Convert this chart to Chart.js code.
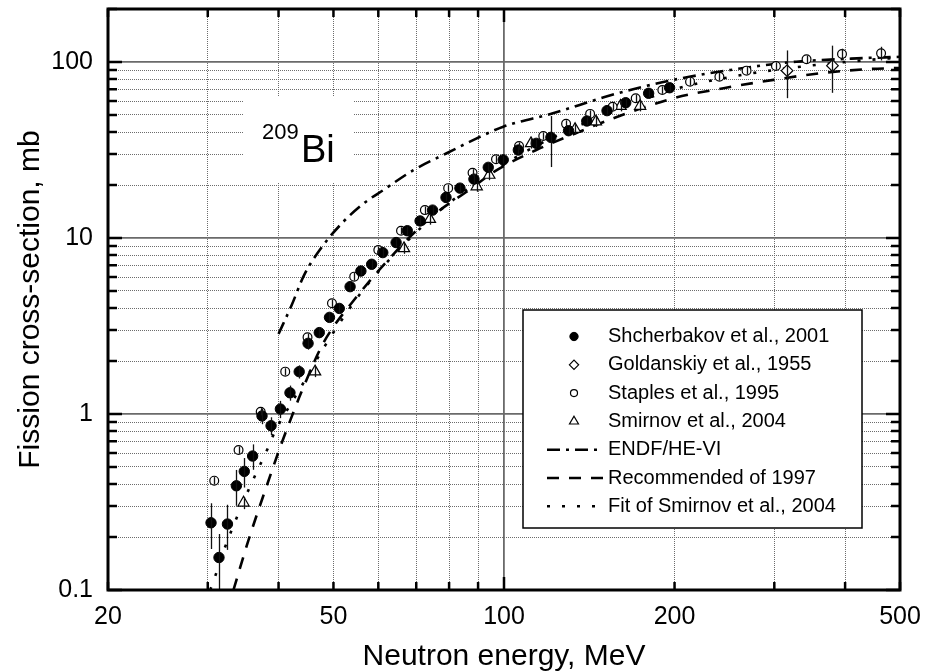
<!DOCTYPE html>
<html>
<head>
<meta charset="utf-8">
<title>209Bi fission cross-section</title>
<script src="https://cdn.jsdelivr.net/npm/chart.js@4.4.1/dist/chart.umd.min.js"></script>
<style>
    html, body { margin: 0; padding: 0; background: #fff; }
    #chart { display: block; }
</style>
</head>
<body>
<canvas id="chart" width="930" height="672"></canvas>
<script>
// =========================================================
// DATA
// =========================================================

    // --- Axes --- //

    const xTickValues = [20, 30, 40, 50, 60, 70, 80, 90, 100, 200, 300, 400, 500];
    const xTickLabels = ["20", "", "", "50", "", "", "", "", "100", "200", "", "", "500"];
    const xMajorTicks = [100];

    const yTickValues = [0.1, 0.2, 0.3, 0.4, 0.5, 0.6, 0.7, 0.8, 0.9,
                         1, 2, 3, 4, 5, 6, 7, 8, 9,
                         10, 20, 30, 40, 50, 60, 70, 80, 90,
                         100, 200];
    const yTickLabels = ["0.1", "", "", "", "", "", "", "", "",
                         "1", "", "", "", "", "", "", "", "",
                         "10", "", "", "", "", "", "", "", "",
                         "100", ""];
    const yMajorTicks = [0.1, 1, 10, 100];

    // --- Shcherbakov et al., 2001 --- //

    const shcherbakovEnergy = [30.4, 31.4, 32.5, 33.7, 34.8, 36.0, 37.4, 38.8, 40.3, 41.9, 43.5, 45.1, 47.2,
                               49.2, 51.2, 53.5, 55.9, 58.4, 61.1, 64.5, 67.5, 71.1, 74.8, 79.0, 83.6, 88.5,
                               93.8, 99.7, 106, 114, 121, 130, 140, 152, 164, 180, 196];
    const shcherbakovSigma = [0.241, 0.153, 0.237, 0.391, 0.472, 0.577, 0.975, 0.858, 1.067, 1.32, 1.74, 2.52, 2.90,
                              3.54, 3.98, 5.29, 6.49, 7.09, 8.26, 9.42, 11.0, 12.5, 14.4, 17.0, 19.2, 21.6,
                              25.2, 27.8, 31.6, 34.5, 37.3, 40.7, 46.2, 52.9, 58.7, 66.4, 71.4];
    const shcherbakovError = [0.07, 0.055, 0.068, 0.09, 0.09, 0.095, 0.1, 0.1, 0.12, 0.13, 0.15, 0.2, 0.2,
                              0.2, 0.25, 0.3, 0.35, 0.4, 0.45, 0.5, 0.6, 0.7, 0.8, 0.9, 1.0, 1.2,
                              1.3, 1.4, 1.6, 1.8, 12, 2.0, 2.3, 2.6, 3.0, 3.3, 3.6];

    // --- Goldanskiy et al., 1955 --- //

    const goldanskiyEnergy = [316, 380];
    const goldanskiySigma = [89.3, 95.3];
    const goldanskiyError = [27, 28.5];

    // --- Staples et al., 1995 --- //

    const staplesEnergy = [30.8, 34.0, 37.2, 41.1, 45.0, 49.7, 54.4, 60.0, 65.8, 72.5, 79.7, 88.0, 96.8, 106.3,
                           117.3, 128.7, 141.9, 155.5, 170.8, 190.3, 213, 240, 268, 302, 342, 395, 463];
    const staplesSigma = [0.418, 0.624, 1.03, 1.74, 2.73, 4.26, 6.03, 8.55, 11.0, 14.4, 19.2, 23.5, 28.0, 33.3,
                          38.0, 44.5, 50.7, 55.7, 62.2, 69.3, 77.3, 82.5, 89.3, 94.9, 103.6, 111, 112];
    const staplesError = [0.02, 0.03, 0.05, 0.08, 0.13, 0.2, 0.3, 0.4, 0.5, 0.7, 0.9, 1.1, 1.3, 1.6,
                          1.8, 2.1, 2.4, 2.7, 3.0, 3.3, 3.7, 4.0, 4.3, 4.6, 5.0, 8.0, 10];

    // --- Smirnov et al., 2004 --- //

    const smirnovEnergy = [34.7, 46.4, 66.6, 74.0, 89.5, 94.2, 111.6, 133.5, 145.3, 160.6, 173.9];
    const smirnovSigma = [0.313, 1.74, 8.73, 12.8, 19.6, 22.8, 34.5, 41.5, 45.8, 56.2, 56.2];
    const smirnovError = [0.025, 0.12, 0.6, 0.9, 1.3, 1.5, 2.3, 2.8, 3.1, 3.8, 3.8];

    // --- Evaluations and fit --- //

    const endfEnergy = [40, 42.2, 44.4, 48, 52.1, 56.5, 61.2, 69.2, 79.2, 89.5, 99.7, 122, 150, 169, 199,
                        251, 328, 410, 500];
    const endfSigma = [2.85, 4.16, 6.17, 9.12, 12.4, 15.7, 18.7, 24.3, 30.3, 36.8, 42.9, 51.1, 63.0, 70.0, 79.1,
                       90.1, 100.4, 104.5, 107];

    const recommendedEnergy = [33.3, 35.4, 37.9, 40.5, 42.2, 43.8, 47.6, 50, 53.8, 58.8, 61.7, 68.3, 77.1, 85.9,
                               97.1, 114, 136, 156, 199, 244, 299, 361, 437, 500];
    const recommendedSigma = [0.1, 0.192, 0.37, 0.682, 0.966, 1.31, 2.41, 3.13, 4.26, 6.03, 7.18, 10.2, 14.4, 18.3,
                              24.3, 31.6, 40.2, 47.9, 62.2, 71.0, 79.1, 86.3, 91.0, 92.5];

    const fitEnergy = [30.3, 30.9, 32.2, 33.7, 35.4, 36.4, 38.4, 39.4, 41.9, 43.8, 48.0, 51.7, 56.1, 61.7, 69.2,
                       77.6, 97.7, 112, 139, 158, 200, 250, 300, 400, 500];
    const fitSigma = [0.1, 0.119, 0.176, 0.255, 0.37, 0.45, 0.652, 0.793, 1.12, 1.42, 2.36, 3.42, 4.95, 7.1, 10.4,
                      14.6, 24.9, 32.4, 45, 53, 70, 82, 90, 100, 106];

// =========================================================
// HELPERS
// =========================================================

    const FONT_FAMILY = "'Liberation Sans', Arial, Helvetica, sans-serif";

    function toPoints(energies, sigmas) {
        return energies.map((energy, index) => ({ x: energy, y: sigmas[index] }));
    }

    function isMajor(value, majorTicks) {
        return majorTicks.some(major => Math.abs(major - value) < major * 1e-6);
    }

    function gridColor(context, majorTicks) {
        if (!context.tick) return "#666";
        return isMajor(context.tick.value, majorTicks) ? "#6a6a6a" : "#6c6c6c";
    }

    function gridWidth(context, majorTicks) {
        if (!context.tick) return 1;
        return isMajor(context.tick.value, majorTicks) ? 1.8 : 1;
    }

    function gridDash(context, majorTicks) {
        if (!context.tick) return [];
        return isMajor(context.tick.value, majorTicks) ? [] : [1, 1];
    }

// =========================================================
// PLUGINS
// =========================================================

    // --- Isotope label (white box hides the grid behind it) --- //

    const isotopeLabelPlugin = {
        id: "isotopeLabel",
        beforeDatasetsDraw(chart) {
            const { ctx, chartArea } = chart;
            const left = chartArea.left + 136;
            const top = chartArea.top + 88;

            ctx.save();
            ctx.fillStyle = "#fff";
            ctx.fillRect(left, top, 109, 86);

            ctx.fillStyle = "#000";
            ctx.textBaseline = "alphabetic";
            ctx.textAlign = "left";
            ctx.font = "22px " + FONT_FAMILY;
            ctx.fillText("209", left + 18, top + 42);
            ctx.font = "38px " + FONT_FAMILY;
            ctx.fillText("Bi", left + 57, top + 65);
            ctx.restore();
        }
    };

    // --- Vertical error bars --- //

    const errorBarPlugin = {
        id: "errorBars",
        afterDatasetsDraw(chart) {
            const { ctx, chartArea, scales } = chart;

            ctx.save();
            ctx.beginPath();
            ctx.rect(chartArea.left, chartArea.top, chartArea.right - chartArea.left, chartArea.bottom - chartArea.top);
            ctx.clip();
            ctx.strokeStyle = "#111";
            ctx.lineWidth = 1.3;

            chart.data.datasets.forEach(dataset => {
                if (!dataset.errorBars) return;

                dataset.data.forEach((point, index) => {
                    const error = dataset.errorBars[index];
                    if (!error) return;

                    const x = Math.round(scales.x.getPixelForValue(point.x)) + 0.5;
                    const yLow = scales.y.getPixelForValue(Math.max(point.y - error, 0.001));
                    const yHigh = scales.y.getPixelForValue(point.y + error);

                    ctx.beginPath();
                    ctx.moveTo(x, yLow);
                    ctx.lineTo(x, yHigh);
                    ctx.stroke();
                });
            });

            ctx.restore();
        }
    };

    // --- Legend box inside the plot --- //

    const legendBoxPlugin = {
        id: "legendBox",
        afterDatasetsDraw(chart) {
            const { ctx, chartArea } = chart;
            const width = 339;
            const height = 218;
            const left = chartArea.right - 38 - width;
            const top = chartArea.bottom - 62 - height;

            ctx.save();
            ctx.fillStyle = "#fff";
            ctx.fillRect(left, top, width, height);
            ctx.strokeStyle = "#000";
            ctx.lineWidth = 1.5;
            ctx.strokeRect(left, top, width, height);

            ctx.font = "20px " + FONT_FAMILY;
            ctx.textBaseline = "middle";
            ctx.textAlign = "left";

            chart.data.datasets.forEach((dataset, index) => {
                const y = top + 26.5 + index * 28.3;

                if (dataset.showLine) {
                    ctx.strokeStyle = dataset.borderColor;
                    ctx.lineWidth = dataset.borderWidth;
                    ctx.setLineDash(dataset.borderDash || []);
                    ctx.beginPath();
                    ctx.moveTo(left + 24, y);
                    ctx.lineTo(left + 80, y);
                    ctx.stroke();
                    ctx.setLineDash([]);
                } else {
                    ctx.fillStyle = dataset.backgroundColor;
                    ctx.strokeStyle = dataset.borderColor;
                    ctx.lineWidth = dataset.borderWidth;
                    Chart.helpers.drawPoint(ctx, {
                        pointStyle: dataset.pointStyle,
                        radius: dataset.pointRadius * 0.8,
                        rotation: 0,
                        borderWidth: dataset.borderWidth
                    }, left + 51, y);
                }

                ctx.fillStyle = "#000";
                ctx.fillText(dataset.label, left + 85, y);
            });

            ctx.restore();
        }
    };

    // --- Frame with inward ticks on all four sides --- //

    const frameTicksPlugin = {
        id: "frameTicks",
        afterDraw(chart) {
            const { ctx, chartArea, scales } = chart;
            const { left, right, top, bottom } = chartArea;

            ctx.save();
            ctx.strokeStyle = "#000";
            ctx.lineWidth = 2.5;
            ctx.beginPath();

            xTickValues.forEach(value => {
                const x = scales.x.getPixelForValue(value);
                const length = isMajor(value, xMajorTicks) ? 13 : 8;
                ctx.moveTo(x, bottom);
                ctx.lineTo(x, bottom - length);
                ctx.moveTo(x, top);
                ctx.lineTo(x, top + length);
            });

            yTickValues.forEach(value => {
                const y = scales.y.getPixelForValue(value);
                const length = isMajor(value, yMajorTicks) ? 14 : 9;
                ctx.moveTo(left, y);
                ctx.lineTo(left + length, y);
                ctx.moveTo(right, y);
                ctx.lineTo(right - length, y);
            });

            ctx.stroke();

            ctx.lineWidth = 3;
            ctx.strokeRect(left, top, right - left, bottom - top);
            ctx.restore();
        }
    };

// =========================================================
// CHART
// =========================================================

    Chart.defaults.font.family = FONT_FAMILY;
    Chart.defaults.color = "#000";

    const markerDefaults = {
        showLine: false,
        borderColor: "#000",
        pointHoverRadius: 0
    };

    const curveDefaults = {
        showLine: true,
        borderColor: "#000",
        borderWidth: 2.6,
        pointRadius: 0,
        pointHoverRadius: 0,
        fill: false,
        cubicInterpolationMode: "monotone"
    };

    const fissionChart = new Chart(document.getElementById("chart"), {
        type: "scatter",
        data: {
            datasets: [
                {
                    ...markerDefaults,
                    label: "Shcherbakov et al., 2001",
                    data: toPoints(shcherbakovEnergy, shcherbakovSigma),
                    errorBars: shcherbakovError,
                    pointStyle: "circle",
                    pointRadius: 5.2,
                    backgroundColor: "#000",
                    borderWidth: 1
                },
                {
                    ...markerDefaults,
                    label: "Goldanskiy et al., 1955",
                    data: toPoints(goldanskiyEnergy, goldanskiySigma),
                    errorBars: goldanskiyError,
                    pointStyle: "rectRot",
                    pointRadius: 5.8,
                    backgroundColor: "#fff",
                    borderWidth: 1.2
                },
                {
                    ...markerDefaults,
                    label: "Staples et al., 1995",
                    data: toPoints(staplesEnergy, staplesSigma),
                    errorBars: staplesError,
                    pointStyle: "circle",
                    pointRadius: 4.4,
                    backgroundColor: "#fff",
                    borderWidth: 1.2
                },
                {
                    ...markerDefaults,
                    label: "Smirnov et al., 2004",
                    data: toPoints(smirnovEnergy, smirnovSigma),
                    errorBars: smirnovError,
                    pointStyle: "triangle",
                    pointRadius: 6.5,
                    backgroundColor: "#fff",
                    borderWidth: 1.2
                },
                {
                    ...curveDefaults,
                    label: "ENDF/HE-VI",
                    data: toPoints(endfEnergy, endfSigma),
                    borderDash: [13, 6, 3, 6]
                },
                {
                    ...curveDefaults,
                    label: "Recommended of 1997",
                    data: toPoints(recommendedEnergy, recommendedSigma),
                    borderDash: [12, 10]
                },
                {
                    ...curveDefaults,
                    label: "Fit of Smirnov et al., 2004",
                    data: toPoints(fitEnergy, fitSigma),
                    borderDash: [3, 12]
                }
            ]
        },
        options: {
            responsive: false,
            animation: false,
            devicePixelRatio: 1,
            layout: {
                padding: { top: 9, right: 30, bottom: 0, left: 0 }
            },
            plugins: {
                legend: { display: false },
                tooltip: { enabled: false }
            },
            scales: {
                x: {
                    type: "logarithmic",
                    position: "bottom",
                    min: 20,
                    max: 500,
                    afterBuildTicks: scale => {
                        scale.ticks = xTickValues.map(value => ({ value: value }));
                    },
                    afterFit: scale => {
                        scale.height = 82;
                        scale.paddingLeft = 0;
                        scale.paddingRight = 0;
                    },
                    ticks: {
                        autoSkip: false,
                        maxRotation: 0,
                        padding: 12,
                        font: { size: 25 },
                        color: "#000",
                        callback: (value, index) => xTickLabels[index]
                    },
                    grid: {
                        drawTicks: false,
                        color: context => gridColor(context, xMajorTicks),
                        lineWidth: context => gridWidth(context, xMajorTicks)
                    },
                    border: {
                        display: false,
                        dash: context => gridDash(context, xMajorTicks)
                    },
                    title: {
                        display: true,
                        text: "Neutron energy, MeV",
                        color: "#000",
                        font: { size: 30, lineHeight: 1 },
                        padding: { top: 0, bottom: 0 }
                    }
                },
                y: {
                    type: "logarithmic",
                    position: "left",
                    min: 0.1,
                    max: 200,
                    afterBuildTicks: scale => {
                        scale.ticks = yTickValues.map(value => ({ value: value }));
                    },
                    afterFit: scale => {
                        scale.width = 108;
                        scale.paddingTop = 0;
                        scale.paddingBottom = 0;
                    },
                    ticks: {
                        autoSkip: false,
                        padding: 15,
                        font: { size: 25 },
                        color: "#000",
                        callback: (value, index) => yTickLabels[index]
                    },
                    grid: {
                        drawTicks: false,
                        color: context => gridColor(context, yMajorTicks),
                        lineWidth: context => gridWidth(context, yMajorTicks)
                    },
                    border: {
                        display: false,
                        dash: context => gridDash(context, yMajorTicks)
                    },
                    title: {
                        display: true,
                        text: "Fission cross-section, mb",
                        color: "#000",
                        font: { size: 30, lineHeight: 1 },
                        padding: { top: 16, bottom: 0 }
                    }
                }
            }
        },
        plugins: [isotopeLabelPlugin, errorBarPlugin, legendBoxPlugin, frameTicksPlugin]
    });
</script>
</body>
</html>
